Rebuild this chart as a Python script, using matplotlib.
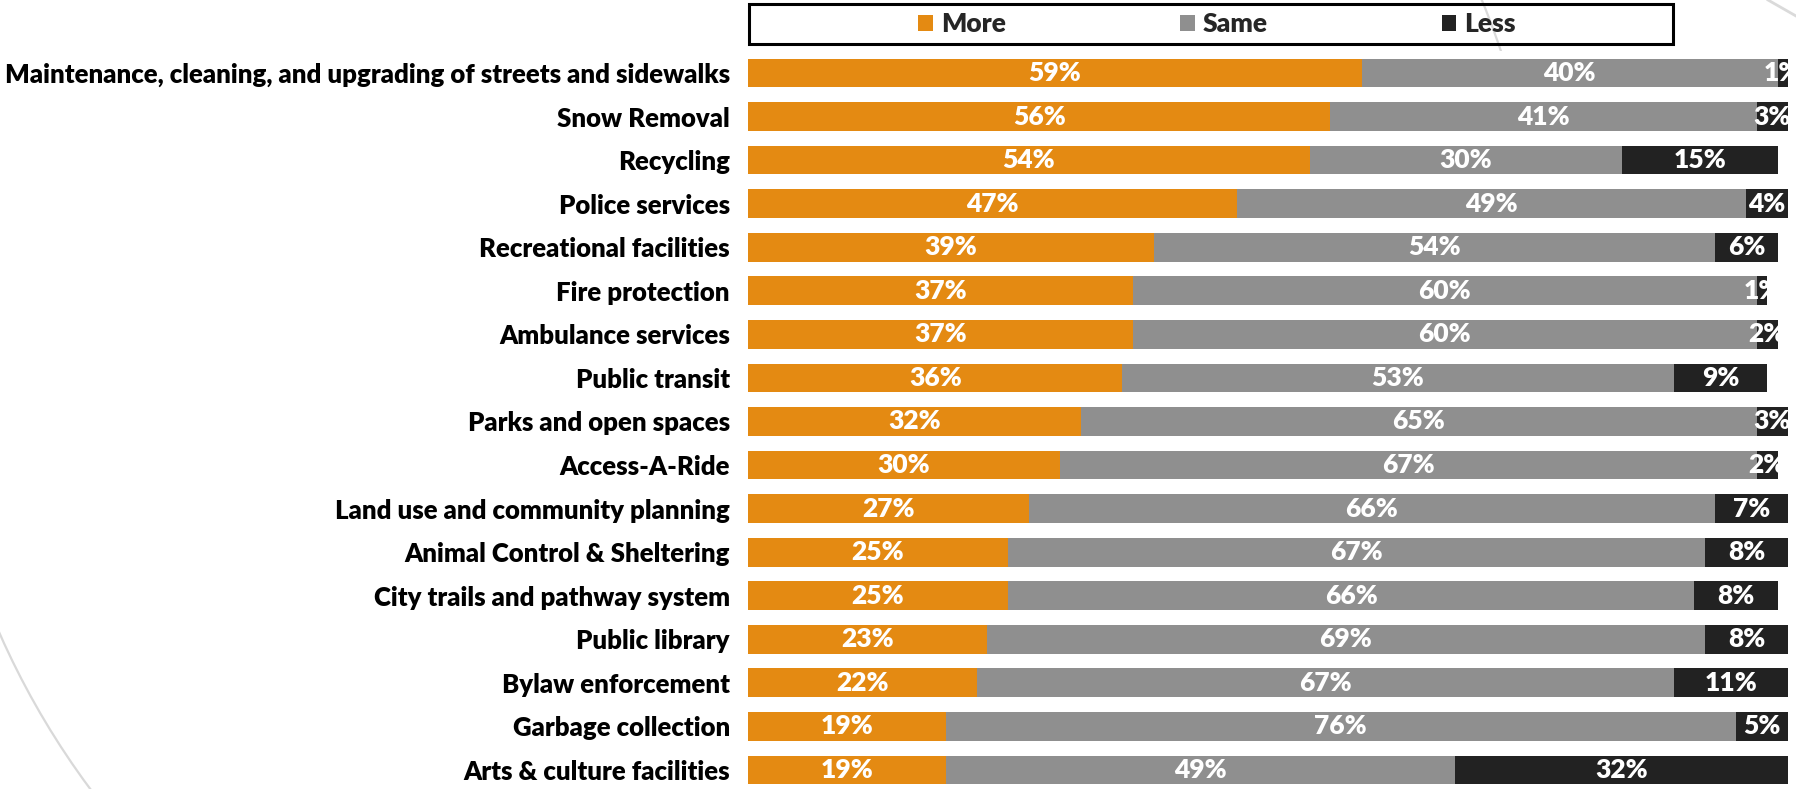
import matplotlib
matplotlib.use("Agg")
import matplotlib.pyplot as plt
from matplotlib.patches import Ellipse, Rectangle, Patch
from matplotlib.lines import Line2D

plt.rcParams["font.family"] = ["Lato", "DejaVu Sans"]

# ── data ───────────────────────────────────────────────────────────────────
services = [
    "Maintenance, cleaning, and upgrading of streets and sidewalks",
    "Snow Removal",
    "Recycling",
    "Police services",
    "Recreational facilities",
    "Fire protection",
    "Ambulance services",
    "Public transit",
    "Parks and open spaces",
    "Access-A-Ride",
    "Land use and community planning",
    "Animal Control & Sheltering",
    "City trails and pathway system",
    "Public library",
    "Bylaw enforcement",
    "Garbage collection",
    "Arts & culture facilities",
]
more = [59, 56, 54, 47, 39, 37, 37, 36, 32, 30, 27, 25, 25, 23, 22, 19, 19]
same = [40, 41, 30, 49, 54, 60, 60, 53, 65, 67, 66, 67, 66, 69, 67, 76, 49]
less = [1, 3, 15, 4, 6, 1, 2, 9, 3, 2, 7, 8, 8, 8, 11, 5, 32]

series = [("More", more, "#E48A12"),
          ("Same", same, "#8F8F8F"),
          ("Less", less, "#222222")]

W, H = 1796, 789
fig = plt.figure(figsize=(W / 100, H / 100), dpi=100)
fig.patch.set_facecolor("white")

# decorative arcs of the slide background
fig.add_artist(Ellipse((737 / W, 1 - 308 / H), 2 * 806 / W, 2 * 806 / H,
                       transform=fig.transFigure, fill=False,
                       edgecolor="#D9D9D9", lw=1.6, zorder=-5))
fig.add_artist(Line2D([1768 / W, 1796 / W], [1.0, 1 - 16 / H],
                      transform=fig.transFigure, color="#DADADA", lw=2.0,
                      zorder=-5))

# axes placed in pixel terms: bars start at x=748, 100% at x=1788
row0, step = 73.0, 43.56
top = row0 - 0.5 * step
bottom = row0 + (len(services) - 0.5) * step
ax = fig.add_axes([748 / W, 1 - bottom / H, (1788 - 748) / W, (bottom - top) / H])
ax.set_facecolor("white")

ypos = list(range(len(services)))
left = [0] * len(services)
for name, vals, col in series:
    bars = ax.barh(ypos, vals, left=left, height=0.66, color=col,
                   edgecolor="none", label=name)
    for b, v in zip(bars, vals):
        ax.text(b.get_x() + b.get_width() / 2, b.get_y() + b.get_height() / 2,
                f"{v}%", ha="center", va="center", color="white",
                fontsize=19, fontweight="heavy", clip_on=False)
    left = [l + v for l, v in zip(left, vals)]

ax.set_xlim(0, 100)
ax.set_ylim(len(services) - 0.5, -0.5)
ax.set_yticks(ypos)
ax.set_yticklabels(services, fontsize=18.5, fontweight="heavy", color="black")
ax.tick_params(axis="y", length=0, pad=13)
ax.set_xticks([])
for s in ax.spines.values():
    s.set_visible(False)

# legend in a black-framed box
fig.add_artist(Rectangle((749 / W, 1 - 44 / H), (1673 - 749) / W, 40 / H,
                         transform=fig.transFigure, fill=False,
                         edgecolor="black", lw=2.2))
handles = [Patch(facecolor=c, edgecolor="none", label=n) for n, _, c in series]
leg = fig.legend(handles=handles, loc="center", ncol=3,
                 bbox_to_anchor=(1217 / W, 1 - 24 / H), frameon=False,
                 prop={"size": 19, "weight": "heavy"},
                 handlelength=0.56, handleheight=0.56, handletextpad=0.3,
                 columnspacing=6.6, borderpad=0)
for t in leg.get_texts():
    t.set_color("#262626")

fig.savefig("out.png", dpi=100, facecolor="white")
